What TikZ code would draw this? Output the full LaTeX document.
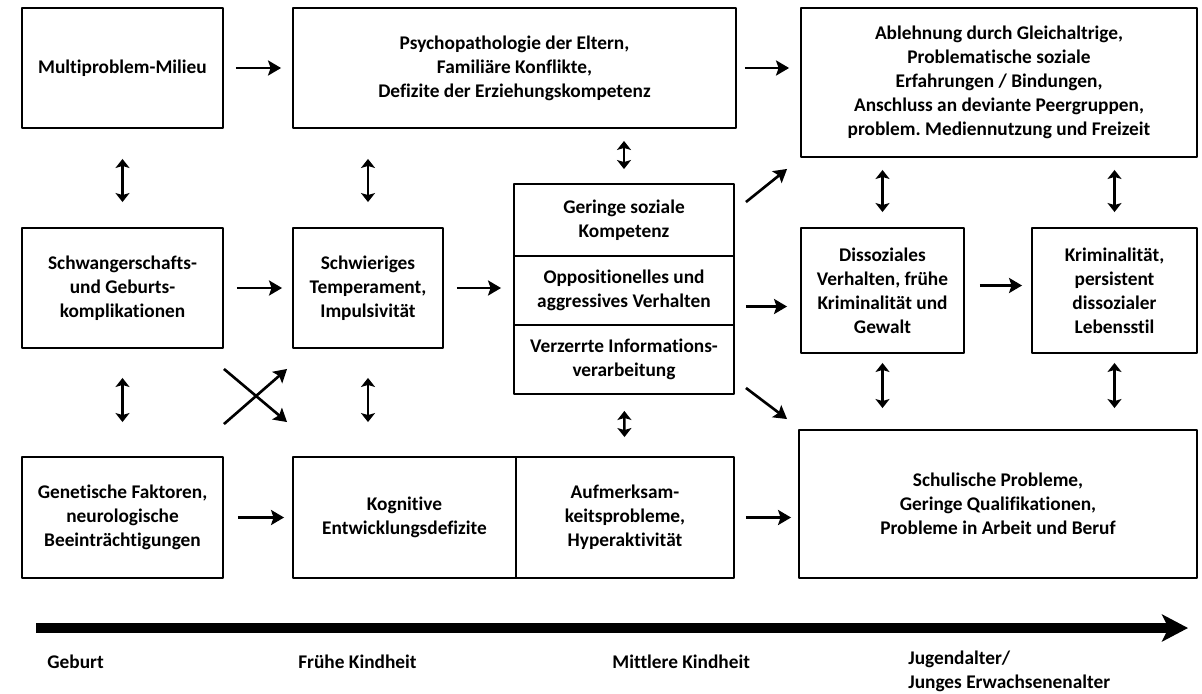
\documentclass[tikz,border=0pt]{standalone}
\usepackage{fontspec}
\setmainfont{Carlito}[Ligatures=NoCommon]
\frenchspacing
\usetikzlibrary{arrows.meta,calc}

\begin{document}
\begin{tikzpicture}[x=0.02cm, y=-0.02cm, font=\fontsize{11}{13.6}\selectfont\bfseries, line join=round, >={Stealth[length=2.6mm,width=3mm,inset=0.5mm]}]
	\tikzset{kasten/.style={draw, line width=1.1pt, align=center, inner sep=2pt},
		pf/.style={->, line width=1.5pt},
		dpf/.style={{Stealth[length=1.8mm,width=2.8mm,inset=0.4mm]}-{Stealth[length=1.8mm,width=2.8mm,inset=0.4mm]}, line width=1.4pt},
		zeit/.style={anchor=base west, inner sep=0pt, align=left}}
	\useasboundingbox (0,0) rectangle (1202,693);
	% Kaesten
	\node[kasten, minimum width=4.02cm, minimum height=2.4cm] (milieu) at (122.5,68) {Multiproblem-Milieu};
	\node[kasten, minimum width=8.86cm, minimum height=2.4cm] (eltern) at (514.5,68) {Psychopathologie der Eltern,\\Familiäre Konflikte,\\Defizite der Erziehungskompetenz};
	\node[kasten, minimum width=7.92cm, minimum height=2.98cm] (ablehnung) at (999,82.5) {Ablehnung durch Gleichaltrige,\\Problematische soziale\\Erfahrungen / Bindungen,\\Anschluss an deviante Peergruppen,\\problem. Mediennutzung und Freizeit};
	\node[kasten, minimum width=4.02cm, minimum height=2.4cm] (schwanger) at (122.5,288) {Schwangerschafts-\\und Geburts-\\komplikationen};
	\node[kasten, minimum width=3cm, minimum height=2.4cm] (temperament) at (368,288) {Schwieriges\\Temperament,\\Impulsivität};
	\node[kasten, minimum width=4.4cm, minimum height=1.44cm] (komp) at (624,220) {Geringe soziale\\Kompetenz};
	\node[kasten, minimum width=4.4cm, minimum height=1.38cm] (opp) at (624,290.5) {Oppositionelles und\\aggressives Verhalten};
	\node[kasten, minimum width=4.4cm, minimum height=1.38cm] (verz) at (624,359.5) {Verzerrte Informations-\\verarbeitung};
	\node[kasten, minimum width=3.26cm, minimum height=2.5cm] (dissoz) at (882.5,290.5) {Dissoziales\\Verhalten, frühe\\Kriminalität und\\Gewalt};
	\node[kasten, minimum width=3.3cm, minimum height=2.5cm] (krim) at (1114.5,290.5) {Kriminalität,\\persistent\\dissozialer\\Lebensstil};
	\node[kasten, minimum width=4.02cm, minimum height=2.42cm] (genetik) at (122.5,517.5) {Genetische Faktoren,\\neurologische\\Beeinträchtigungen};
	\node[kasten, minimum width=4.46cm, minimum height=2.42cm] (kognitiv) at (404.5,517.5) {Kognitive\\Entwicklungsdefizite};
	\node[kasten, minimum width=4.36cm, minimum height=2.42cm] (aufmerk) at (625,517.5) {Aufmerksam-\\keitsprobleme,\\Hyperaktivität};
	\node[kasten, minimum width=7.96cm, minimum height=2.96cm] (schule) at (998,504) {Schulische Probleme,\\Geringe Qualifikationen,\\Probleme in Arbeit und Beruf};
	% Pfeile
	\coordinate (oppaus) at ($(opp.east)+(0,16)$);
	\coordinate (dissaus) at ($(dissoz.east)+(0,-5)$);
	\draw[pf, shorten <=0.24cm, shorten >=0.22cm] (milieu) -- (eltern);
	\draw[pf, shorten <=0.16cm, shorten >=0.22cm] (eltern) -- (eltern -| ablehnung.west);
	\draw[pf, shorten <=0.26cm, shorten >=0.2cm] (schwanger) -- (temperament);
	\draw[pf, shorten <=0.26cm, shorten >=0.24cm] (temperament) -- (temperament -| opp.west);
	\draw[pf, shorten <=0.22cm, shorten >=0.26cm] (oppaus) -- (oppaus -| dissoz.west);
	\draw[pf, shorten <=0.3cm, shorten >=0.18cm] (dissaus) -- (dissaus -| krim.west);
	\draw[pf, shorten <=0.28cm, shorten >=0.16cm] (genetik) -- (kognitiv);
	\draw[pf, shorten <=0.22cm, shorten >=0.14cm] (aufmerk) -- (aufmerk -| schule.west);
	\draw[pf] ($(komp.north east)+(11,19)$) -- ($(ablehnung.south west)+(-13,11)$);
	\draw[pf] ($(verz.south east)+(11,-7)$) -- ($(schule.north west)+(-11,-10)$);
	\draw[pf] ($(schwanger.south east)+(0,20)$) -- ($(kognitiv.north west)+(-5,-34)$);
	\draw[pf] ($(genetik.north east)+(0,-32)$) -- ($(temperament.south west)+(-5,20)$);
	\draw[dpf, shorten <=0.6cm, shorten >=0.5cm] (milieu) -- (schwanger);
	\draw[dpf, shorten <=0.6cm, shorten >=0.5cm] (temperament.north |- eltern.south) -- (temperament.north);
	\draw[dpf, shorten <=0.24cm, shorten >=0.28cm] (komp.north |- eltern.south) -- (komp.north);
	\draw[dpf, shorten <=0.24cm, shorten >=0.3cm] (dissoz.north |- ablehnung.south) -- (dissoz.north);
	\draw[dpf, shorten <=0.24cm, shorten >=0.3cm] (krim.north |- ablehnung.south) -- (krim.north);
	\draw[dpf, shorten <=0.58cm, shorten >=0.68cm] (schwanger) -- (genetik);
	\draw[dpf, shorten <=0.58cm, shorten >=0.68cm] (temperament) -- (temperament.south |- kognitiv.north);
	\draw[dpf, shorten <=0.32cm, shorten >=0.38cm] (verz) -- (aufmerk);
	\draw[dpf, shorten <=0.18cm, shorten >=0.42cm] (dissoz) -- (dissoz.south |- schule.north);
	\draw[dpf, shorten <=0.18cm, shorten >=0.42cm] (krim) -- (krim.south |- schule.north);
	% Zeitachse
	\coordinate (anfang) at (36,628);
	\coordinate (ende) at (1188,628);
	\draw[line width=5.7pt, -{Stealth[length=5.2mm,width=5.4mm,inset=1.3mm]}] (anfang) -- (ende);
	\node[zeit] (geburt) at (47,668) {Geburt};
	\node[zeit] (frueh) at (298,668) {Frühe Kindheit};
	\node[zeit] (mittel) at (612,668) {Mittlere Kindheit};
	\node[zeit] (jugend) at (908,688) {Jugendalter/\\Junges Erwachsenenalter};
\end{tikzpicture}
\end{document}
